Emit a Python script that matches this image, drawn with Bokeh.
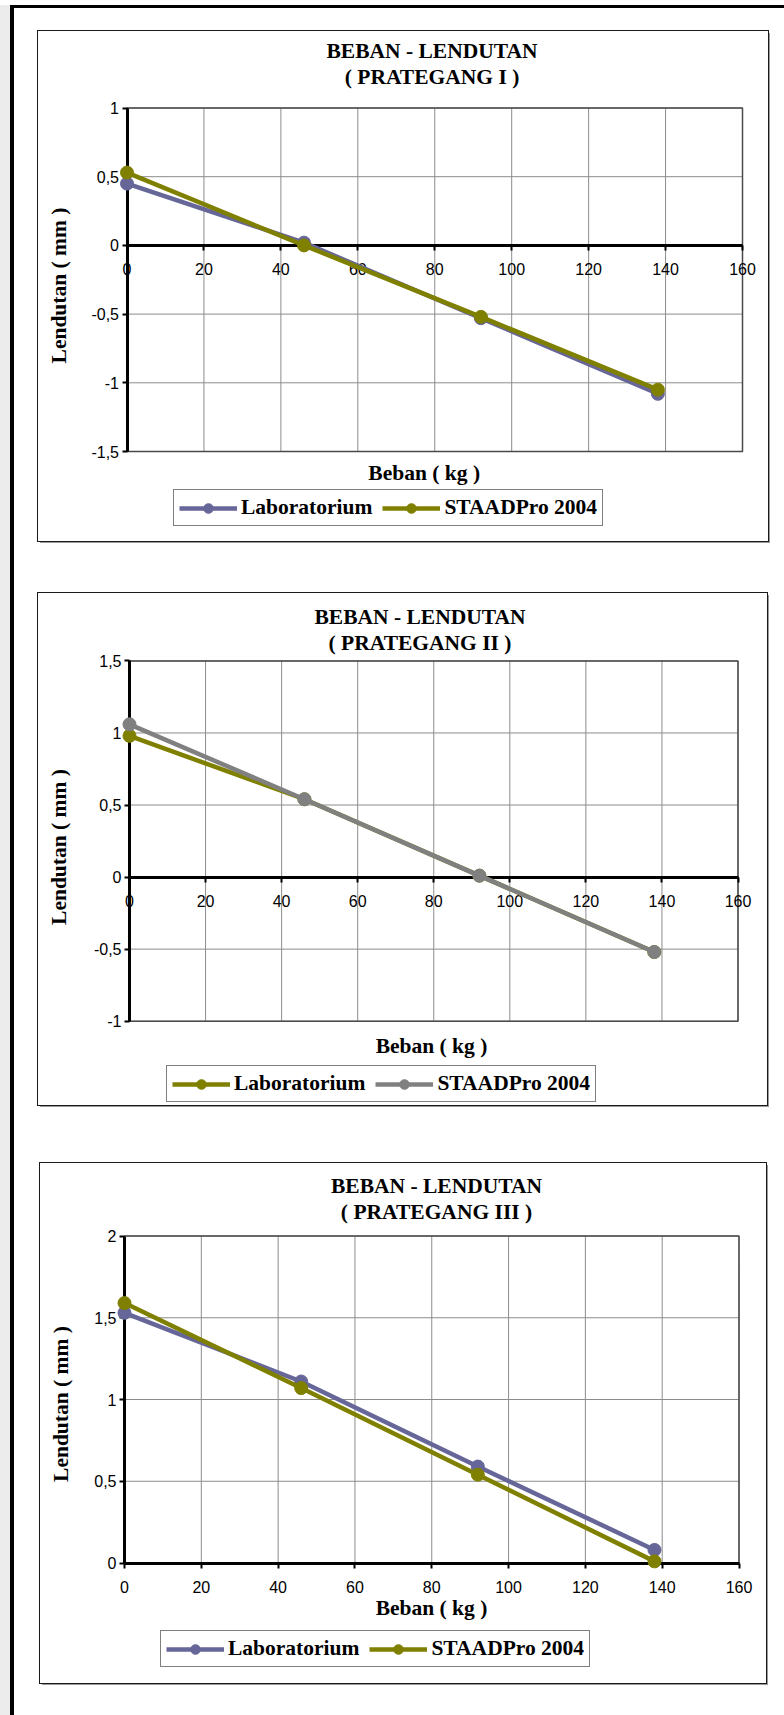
from bokeh.plotting import figure
from bokeh.layouts import column
from bokeh.models import Label, Legend, LegendItem, FixedTicker, Range1d
from bokeh.embed import file_html
from bokeh.resources import INLINE

# Load (kg) applied at each step
beban = [0, 46, 92, 138]

# Deflection (mm): laboratory test vs STAAD Pro 2004, three prestress stages
lab_1 = [0.45, 0.02, -0.53, -1.08]
staad_1 = [0.53, 0.00, -0.52, -1.05]
lab_2 = [0.98, 0.54, 0.01, -0.52]
staad_2 = [1.06, 0.54, 0.01, -0.52]
lab_3 = [1.53, 1.11, 0.59, 0.08]
staad_3 = [1.59, 1.07, 0.54, 0.01]

x_ticks = [0, 20, 40, 60, 80, 100, 120, 140, 160]
y_ticks_1 = [-1.5, -1, -0.5, 0, 0.5, 1]
y_ticks_2 = [-1, -0.5, 0, 0.5, 1, 1.5]
y_ticks_3 = [0, 0.5, 1, 1.5, 2]

subtitles = ["( PRATEGANG I )", "( PRATEGANG II )", "( PRATEGANG III )"]
series_names = ["Laboratorium", "STAADPro 2004"]
main_title = "BEBAN - LENDUTAN"
x_title = "Beban ( kg )"
y_title = "Lendutan ( mm )"

PURPLE = "#666699"
OLIVE = "#808000"
GRAY = "#808080"
GRID = "#8c8c8c"

SERIF = "Liberation Serif"
SANS = "Liberation Sans"
TXT = "21.5px"


def comma(v):
    return ("%g" % v).replace(".", ",")


def make_chart(sub, lab, staad, colors, y_ticks, box, plot, lay):
    """One chart filling its whole box; pixel layout is converted to data
    coordinates so titles and legend live inside the frame."""
    bx, by, bw, bh = box
    pl, pr, pt, pb = plot
    y_lo, y_hi = y_ticks[0], y_ticks[-1]
    sx = (pr - pl) / (x_ticks[-1] - x_ticks[0])
    sy = (pb - pt) / (y_hi - y_lo)

    def X(px):
        return x_ticks[0] + (px - pl) / sx

    def Y(py):
        return y_lo + (pb - py) / sy

    p = figure(width=bw, height=bh,
               x_range=Range1d(X(bx), X(bx + bw)),
               y_range=Range1d(Y(by + bh), Y(by)),
               output_backend="svg", toolbar_location=None, title=None,
               min_border=0, min_border_left=0, min_border_right=0,
               min_border_top=0, min_border_bottom=0,
               background_fill_color="white", border_fill_color="white")
    p.outline_line_color = None
    p.grid.visible = False

    # grid and plot-area border, limited to the data area
    n, m = len(x_ticks), len(y_ticks)
    p.segment(x0=x_ticks, y0=[y_lo] * n, x1=x_ticks, y1=[y_hi] * n,
              line_color=GRID, line_width=1, level="image")
    p.segment(x0=[x_ticks[0]] * m, y0=y_ticks, x1=[x_ticks[-1]] * m, y1=y_ticks,
              line_color=GRID, line_width=1, level="image")
    p.quad(left=[x_ticks[0]], right=[x_ticks[-1]], bottom=[y_lo], top=[y_hi],
           fill_color=None, line_color="#4a4a4a", line_width=1.5, level="image")

    # axes crossing at the origin
    p.xaxis.ticker = FixedTicker(ticks=x_ticks)
    p.yaxis.ticker = FixedTicker(ticks=y_ticks)
    p.yaxis.major_label_overrides = {t: comma(t) for t in y_ticks}
    p.xaxis.bounds = (x_ticks[0], x_ticks[-1])
    p.yaxis.bounds = (y_lo, y_hi)
    p.xaxis.fixed_location = 0
    p.yaxis.fixed_location = 0
    for ax in (p.xaxis, p.yaxis):
        ax.level = "underlay"
        ax.axis_line_color = "black"
        ax.axis_line_width = 3
        ax.major_tick_line_color = "black"
        ax.major_tick_line_width = 2
        ax.minor_tick_line_color = None
        ax.major_label_text_font = SANS
        ax.major_label_text_font_size = "16px"
        ax.major_label_text_color = "black"
        ax.major_tick_in = 0
        ax.major_tick_out = 5
    p.yaxis.major_label_standoff = 3
    p.xaxis.major_label_standoff = 13

    def label(text, cx, cy, angle=0):
        p.add_layout(Label(x=X(cx), y=Y(cy), text=text, angle=angle,
                           angle_units="deg", text_align="center",
                           text_baseline="middle", text_font=SERIF,
                           text_font_style="bold", text_font_size=TXT,
                           text_color="black"))

    label(main_title, lay["t_x"], lay["t1"])
    label(sub, lay["t_x"], lay["t1"] + 26)
    label(x_title, lay["xt_x"], lay["xt"])
    label(y_title, lay["yt_x"], lay["yt_c"], angle=90)

    renderers = []
    for vals, col in zip((lab, staad), colors):
        ln = p.line(beban, vals, line_color=col, line_width=4.5)
        sc = p.scatter(beban, vals, size=13, marker="circle",
                       fill_color=col, line_color=col)
        renderers.append([ln, sc])

    legend = Legend(items=[LegendItem(label=nm, renderers=r)
                           for nm, r in zip(series_names, renderers)],
                    orientation="horizontal",
                    location=(lay["leg_x"] - bx, by + bh - lay["leg_b"]),
                    border_line_color="black", border_line_width=1,
                    background_fill_color="white", background_fill_alpha=1,
                    label_text_font=SERIF, label_text_font_style="bold",
                    label_text_font_size=TXT, label_text_color="black",
                    glyph_width=58, glyph_height=24, label_height=24,
                    label_standoff=4, spacing=10, padding=5, margin=0)
    p.add_layout(legend, "center")
    return p


# chart boxes (left, top, width, height) and data areas (left, right, top, bottom)
boxes = [(38, 31, 730, 510), (38, 593, 729, 512), (40, 1163, 726, 520)]
plots = [(126.5, 742, 107.5, 451), (129, 737.5, 660.4, 1020.7),
         (124, 738.5, 1235.5, 1562.5)]
# text centres and legend placement, in page pixels
lays = [
    dict(t_x=431.5, t1=50.3, xt_x=423.7, xt=472.9, yt_x=58, yt_c=285,
         leg_x=173, leg_b=526),
    dict(t_x=419.5, t1=616, xt_x=431, xt=1045.7, yt_x=58, yt_c=846.5,
         leg_x=166, leg_b=1102),
    dict(t_x=436, t1=1185, xt_x=431, xt=1607.5, yt_x=60, yt_c=1403.5,
         leg_x=160, leg_b=1667),
]

c1 = make_chart(subtitles[0], lab_1, staad_1, (PURPLE, OLIVE), y_ticks_1,
                boxes[0], plots[0], lays[0])
c2 = make_chart(subtitles[1], lab_2, staad_2, (OLIVE, GRAY), y_ticks_2,
                boxes[1], plots[1], lays[1])
c3 = make_chart(subtitles[2], lab_3, staad_3, (PURPLE, OLIVE), y_ticks_3,
                boxes[2], plots[2], lays[2])

# page: grey strip and black rule on the left, black rule along the top
PAGE_W, PAGE_H = 784, 1715
prev = 0
charts = [c1, c2, c3]
for i, (c, (bx, by, bw, bh)) in enumerate(zip(charts, boxes)):
    bottom = PAGE_H - (by + bh) if i == 2 else 0
    c.margin = (by - prev, PAGE_W - bx - bw, bottom, bx)
    c.styles = {"outline": "1px solid #1a1a1a", "box-shadow": "2px 2px 0 0 #9a9a9a"}
    prev = by + bh

page = column(*charts, margin=(0, 0, 0, 0),
              styles={"box-shadow": "inset 0 5px 0 0 #fff, inset 10px 0 0 0 #ececec, "
                                    "inset 14px 8px 0 0 #000",
                      "background": "white"})

open("out.html", "w").write(file_html(page, INLINE))
